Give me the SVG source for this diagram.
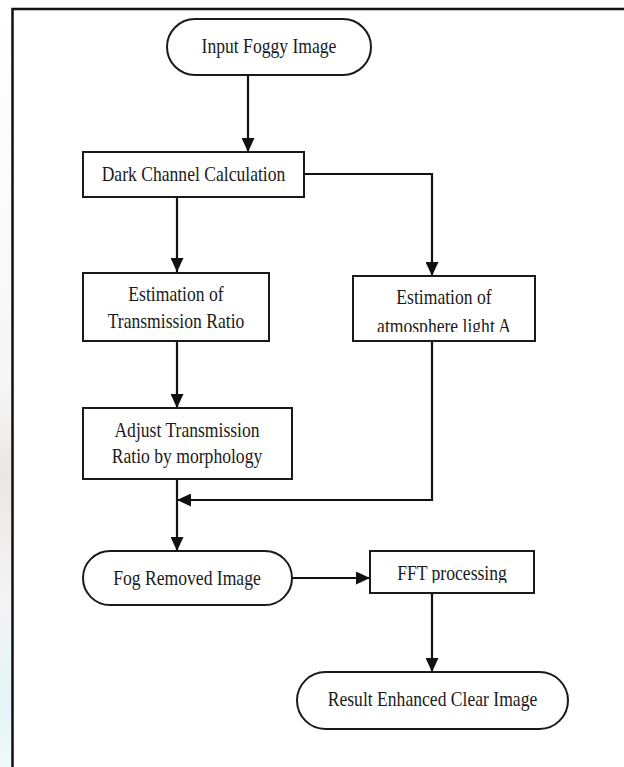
<svg xmlns="http://www.w3.org/2000/svg" width="624" height="767" viewBox="0 0 624 767">
<style>
.shape{fill:#fff;stroke:#1a1a1a;stroke-width:2}
.lbl{font-family:"Liberation Serif","Times New Roman",serif;font-size:20px;fill:#1a1a1a;text-anchor:middle}
.conn{fill:none;stroke:#111;stroke-width:2.2}
</style>
<defs>
<marker id="ah" markerUnits="userSpaceOnUse" markerWidth="14" markerHeight="13" refX="14" refY="6.5" orient="auto">
<path d="M0,0 L14,6.5 L0,13 z" fill="#111"/>
</marker>
<linearGradient id="bg" x1="0" y1="0" x2="0" y2="1">
<stop offset="0" stop-color="#ffffff"/>
<stop offset="0.5" stop-color="#f6f6f6"/>
<stop offset="0.62" stop-color="#ece6e6"/>
<stop offset="0.78" stop-color="#f4f4f4"/>
<stop offset="0.92" stop-color="#e4f4f8"/>
<stop offset="1" stop-color="#f0fafc"/>
</linearGradient>
<clipPath id="clipAtm"><rect x="353" y="276" width="182" height="56"/></clipPath>
<clipPath id="clipFft"><rect x="370" y="551" width="164" height="32"/></clipPath>
</defs>
<rect x="0" y="0" width="624" height="767" fill="#fff"/>
<rect x="0" y="0" width="12" height="767" fill="url(#bg)"/>
<path d="M12.5,767 V9 H624" fill="none" stroke="#111" stroke-width="2.5"/>

<g id="connectors">
<path class="conn" d="M248,76 V152" marker-end="url(#ah)"/>
<path class="conn" d="M304,174 H432 V276" marker-end="url(#ah)"/>
<path class="conn" d="M177,197 V272" marker-end="url(#ah)"/>
<path class="conn" d="M177,341 V408" marker-end="url(#ah)"/>
<path class="conn" d="M432,341 V500 H177" marker-end="url(#ah)"/>
<path class="conn" d="M177,479 V551" marker-end="url(#ah)"/>
<path class="conn" d="M292,578 H370" marker-end="url(#ah)"/>
<path class="conn" d="M432,593 V672" marker-end="url(#ah)"/>
</g>

<g id="input">
<rect class="shape" x="167" y="19" width="204" height="56" rx="28" ry="28"/>
<text class="lbl" transform="matrix(0.88 0 0 1 269 53)">Input Foggy Image</text>
</g>
<g id="dark">
<rect class="shape" x="83" y="152" width="221" height="45"/>
<text class="lbl" transform="matrix(0.88 0 0 1 193.5 181)">Dark Channel Calculation</text>
</g>
<g id="transmission">
<rect class="shape" x="83" y="273" width="186" height="68"/>
<text class="lbl" transform="matrix(0.88 0 0 1 176 301)">Estimation of</text>
<text class="lbl" transform="matrix(0.88 0 0 1 176 328)">Transmission Ratio</text>
</g>
<g id="atmosphere">
<rect class="shape" x="353" y="276" width="182" height="65"/>
<text class="lbl" transform="matrix(0.88 0 0 1 444 304)">Estimation of</text>
<g clip-path="url(#clipAtm)"><text class="lbl" transform="matrix(0.88 0 0 1 444 333)">atmosphere light A</text></g>
</g>
<g id="adjust">
<rect class="shape" x="83" y="408" width="209" height="71"/>
<text class="lbl" transform="matrix(0.88 0 0 1 187 437)">Adjust Transmission</text>
<text class="lbl" transform="matrix(0.88 0 0 1 187 463)">Ratio by morphology</text>
</g>
<g id="fogremoved">
<rect class="shape" x="83" y="551" width="209" height="54" rx="27" ry="27"/>
<text class="lbl" transform="matrix(0.88 0 0 1 187 585)">Fog Removed Image</text>
</g>
<g id="fft">
<rect class="shape" x="370" y="551" width="164" height="42"/>
<g clip-path="url(#clipFft)"><text class="lbl" transform="matrix(0.88 0 0 1 452 580)">FFT processing</text></g>
</g>
<g id="result">
<rect class="shape" x="297" y="672" width="271" height="57" rx="28.5" ry="28.5"/>
<text class="lbl" transform="matrix(0.88 0 0 1 432.5 706)">Result Enhanced Clear Image</text>
</g>
</svg>
